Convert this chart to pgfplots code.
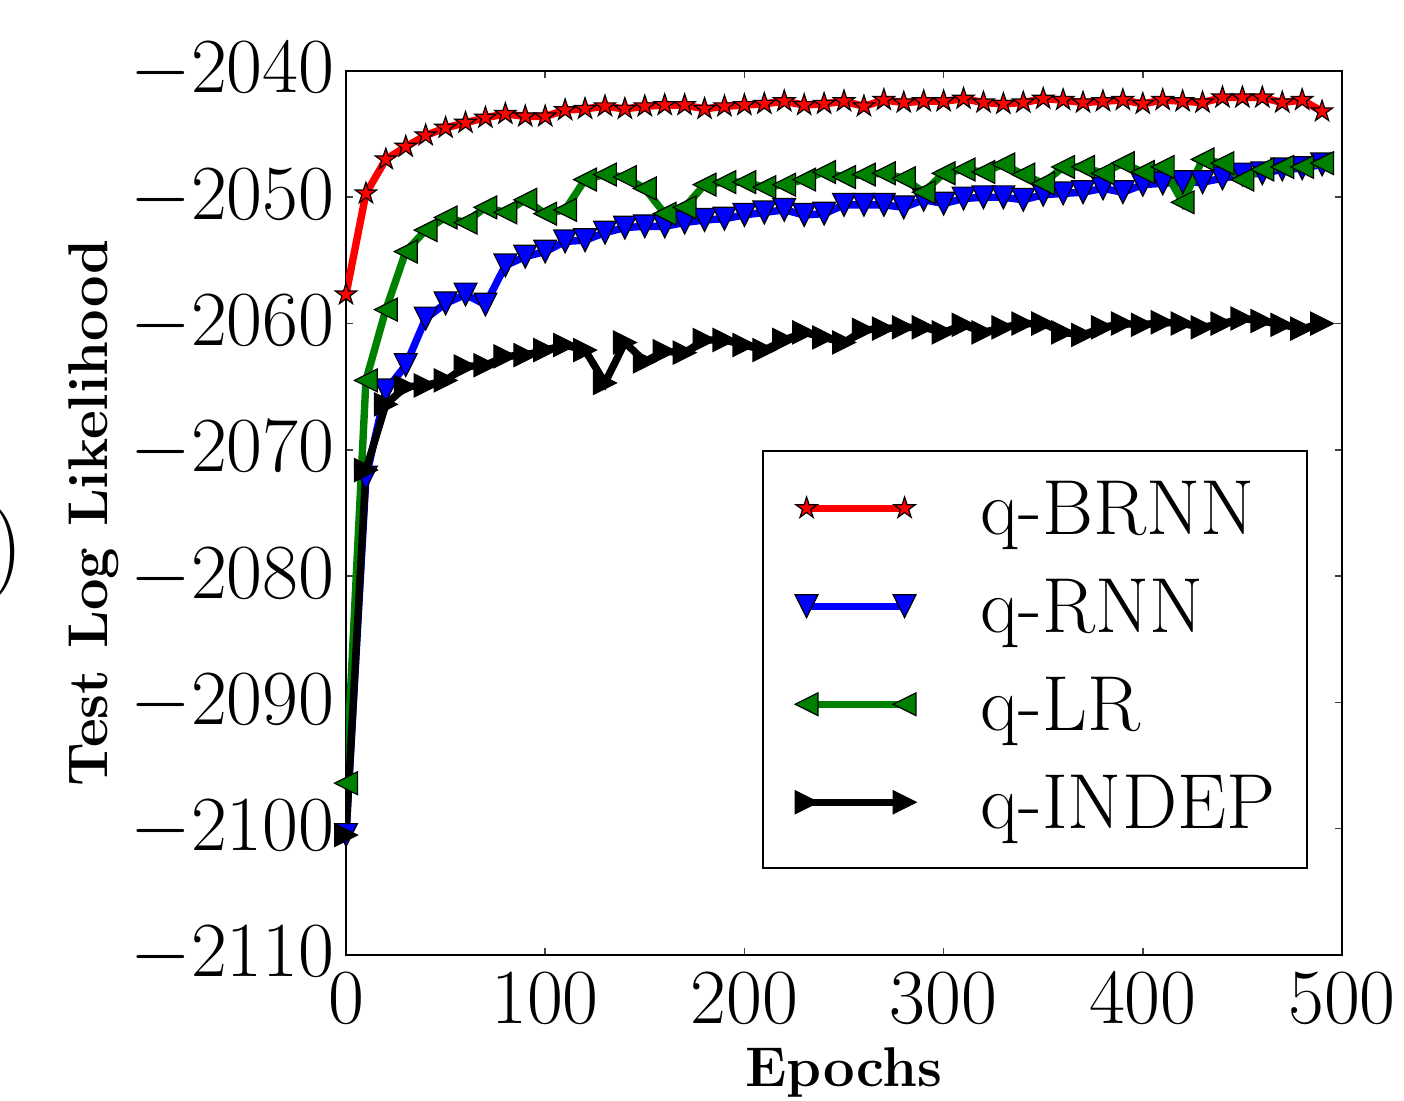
\documentclass[border=0pt]{standalone}
\usepackage{fix-cm}
\usepackage{pgfplots}
\pgfplotsset{compat=1.18}
\usetikzlibrary{calc}

% matplotlib-like filled markers
\pgfdeclareplotmark{mstar}{%
  \pgfpathmoveto{\pgfpointpolar{90}{\pgfplotmarksize}}%
  \pgfpathlineto{\pgfpointpolar{126}{0.382\pgfplotmarksize}}%
  \pgfpathlineto{\pgfpointpolar{162}{\pgfplotmarksize}}%
  \pgfpathlineto{\pgfpointpolar{198}{0.382\pgfplotmarksize}}%
  \pgfpathlineto{\pgfpointpolar{234}{\pgfplotmarksize}}%
  \pgfpathlineto{\pgfpointpolar{270}{0.382\pgfplotmarksize}}%
  \pgfpathlineto{\pgfpointpolar{306}{\pgfplotmarksize}}%
  \pgfpathlineto{\pgfpointpolar{342}{0.382\pgfplotmarksize}}%
  \pgfpathlineto{\pgfpointpolar{18}{\pgfplotmarksize}}%
  \pgfpathlineto{\pgfpointpolar{54}{0.382\pgfplotmarksize}}%
  \pgfpathclose\pgfusepathqfillstroke}
\pgfdeclareplotmark{mdown}{%
  \pgfpathmoveto{\pgfpoint{0pt}{-\pgfplotmarksize}}%
  \pgfpathlineto{\pgfpoint{-\pgfplotmarksize}{\pgfplotmarksize}}%
  \pgfpathlineto{\pgfpoint{\pgfplotmarksize}{\pgfplotmarksize}}%
  \pgfpathclose\pgfusepathqfillstroke}
\pgfdeclareplotmark{mleft}{%
  \pgfpathmoveto{\pgfpoint{-\pgfplotmarksize}{0pt}}%
  \pgfpathlineto{\pgfpoint{\pgfplotmarksize}{\pgfplotmarksize}}%
  \pgfpathlineto{\pgfpoint{\pgfplotmarksize}{-\pgfplotmarksize}}%
  \pgfpathclose\pgfusepathqfillstroke}
\pgfdeclareplotmark{mright}{%
  \pgfpathmoveto{\pgfpoint{\pgfplotmarksize}{0pt}}%
  \pgfpathlineto{\pgfpoint{-\pgfplotmarksize}{\pgfplotmarksize}}%
  \pgfpathlineto{\pgfpoint{-\pgfplotmarksize}{-\pgfplotmarksize}}%
  \pgfpathclose\pgfusepathqfillstroke}

\definecolor{mgreen}{RGB}{0,128,0}

\pgfplotstableread{
x y
0 -2057.7
10 -2049.7
20 -2047.0
30 -2046.0
40 -2045.1
50 -2044.5
60 -2044.1
70 -2043.7
80 -2043.4
90 -2043.6
100 -2043.6
110 -2043.1
120 -2043.0
130 -2042.8
140 -2043.0
150 -2042.8
160 -2042.7
170 -2042.7
180 -2043.0
190 -2042.8
200 -2042.7
210 -2042.6
220 -2042.4
230 -2042.7
240 -2042.6
250 -2042.4
260 -2042.8
270 -2042.3
280 -2042.5
290 -2042.4
300 -2042.4
310 -2042.2
320 -2042.5
330 -2042.6
340 -2042.5
350 -2042.2
360 -2042.3
370 -2042.5
380 -2042.4
390 -2042.3
400 -2042.6
410 -2042.3
420 -2042.4
430 -2042.5
440 -2042.1
450 -2042.1
460 -2042.1
470 -2042.5
480 -2042.3
490 -2043.2
}\brnn

\pgfplotstableread{
x y
0 -2100.5
10 -2072.2
20 -2065.3
30 -2063.3
40 -2059.6
50 -2058.4
60 -2057.7
70 -2058.5
80 -2055.4
90 -2054.7
100 -2054.3
110 -2053.5
120 -2053.4
130 -2052.8
140 -2052.4
150 -2052.3
160 -2052.3
170 -2052.0
180 -2051.8
190 -2051.7
200 -2051.4
210 -2051.2
220 -2051.0
230 -2051.4
240 -2051.3
250 -2050.6
260 -2050.6
270 -2050.6
280 -2050.8
290 -2050.2
300 -2050.5
310 -2050.1
320 -2050.0
330 -2050.0
340 -2050.2
350 -2049.8
360 -2049.7
370 -2049.6
380 -2049.3
390 -2049.6
400 -2049.0
410 -2048.9
420 -2048.8
430 -2048.8
440 -2048.5
450 -2048.2
460 -2048.1
470 -2047.8
480 -2047.7
490 -2047.4
}\rnn

\pgfplotstableread{
x y
0 -2096.4
10 -2064.5
20 -2058.9
30 -2054.3
40 -2052.6
50 -2051.6
60 -2052.0
70 -2050.8
80 -2051.2
90 -2050.2
100 -2051.3
110 -2051.0
120 -2048.6
130 -2048.2
140 -2048.4
150 -2049.3
160 -2051.3
170 -2050.8
180 -2049.0
190 -2048.8
200 -2048.8
210 -2049.2
220 -2049.0
230 -2048.6
240 -2048.0
250 -2048.4
260 -2048.2
270 -2048.1
280 -2048.5
290 -2049.6
300 -2048.1
310 -2047.8
320 -2048.0
330 -2047.4
340 -2048.2
350 -2048.9
360 -2047.6
370 -2047.6
380 -2048.1
390 -2047.3
400 -2048.0
410 -2047.6
420 -2050.4
430 -2047.0
440 -2047.3
450 -2048.6
460 -2047.8
470 -2047.6
480 -2047.6
490 -2047.3
}\lr

\pgfplotstableread{
x y
0 -2100.5
10 -2071.6
20 -2066.4
30 -2065.0
40 -2064.9
50 -2064.5
60 -2063.4
70 -2063.3
80 -2062.6
90 -2062.5
100 -2062.1
110 -2061.7
120 -2062.1
130 -2064.7
140 -2061.5
150 -2063.0
160 -2062.2
170 -2062.3
180 -2061.3
190 -2061.3
200 -2061.7
210 -2062.1
220 -2061.3
230 -2060.7
240 -2061.1
250 -2061.5
260 -2060.5
270 -2060.4
280 -2060.3
290 -2060.3
300 -2060.7
310 -2060.1
320 -2060.7
330 -2060.3
340 -2060.0
350 -2060.0
360 -2060.7
370 -2060.9
380 -2060.3
390 -2060.0
400 -2060.1
410 -2059.9
420 -2060.0
430 -2060.3
440 -2060.0
450 -2059.6
460 -2059.8
470 -2060.1
480 -2060.4
490 -2060.0
}\indep

\begin{document}
\begin{tikzpicture}
\begin{axis}[
  name=ax, scale only axis, width=249pt, height=221pt,
  xmin=0, xmax=500, ymin=-2110, ymax=-2040,
  xtick={0,100,...,500}, ytick={-2110,-2100,...,-2040},
  scaled ticks=false, /pgf/number format/1000 sep={},
  tick align=inside, major tick length=1.75pt,
  tick style={black!75, line width=0.4pt},
  axis line style={line width=0.5pt},
  tick label style={font=\fontsize{19.5}{23}\selectfont, inner sep=0pt},
  xticklabel style={yshift=-4.25pt},
  yticklabel style={xshift=-2.75pt},
  xlabel={Epochs}, ylabel={Test Log Likelihood},
  every axis x label/.style={at={(axis description cs:0.5,-0.1493)}, anchor=base,
    font=\fontsize{14}{17}\selectfont\bfseries},
  every axis y label/.style={at={(axis description cs:-0.239,0.5)}, anchor=base, rotate=90,
    font=\fontsize{14}{17}\selectfont\bfseries},
  legend cell align=left,
  legend image code/.code={\draw[#1] plot coordinates {(0pt,6.5pt) (24.5pt,6.5pt)};},
  legend style={at={(0.966,0.097)}, anchor=south east, draw=black, line width=0.5pt,
    fill=white, inner xsep=8pt, inner ysep=7pt, row sep=7.75pt,
    font=\fontsize{19.5}{23}\selectfont,
    cells={anchor=base west},
    nodes={inner sep=0pt, text height=13.75pt, text depth=3pt},
    /tikz/every odd column/.append style={column sep=16.25pt}},
  every axis plot/.append style={line width=1.85pt},
]
\addplot[red, mark=mstar, mark size=2.8pt,
  mark options={fill=red, draw=black, line width=0.3pt}] table {\brnn};
\addlegendentry{q-BRNN}
\addplot[blue, mark=mdown, mark size=2.85pt,
  mark options={fill=blue, draw=black, line width=0.3pt}] table {\rnn};
\addlegendentry{q-RNN}
\addplot[mgreen, mark=mleft, mark size=2.85pt,
  mark options={fill=mgreen, draw=black, line width=0.3pt}] table {\lr};
\addlegendentry{q-LR}
\addplot[black, mark=mright, mark size=2.85pt,
  mark options={fill=black, draw=black, line width=0.3pt}] table {\indep};
\addlegendentry{q-INDEP}
\end{axis}
\node[anchor=east, inner sep=0pt, font=\fontsize{24}{28}\selectfont]
  at ($(ax.south west)+(-80.5pt,100.5pt)$) {)};
\pgfresetboundingbox
\path ($(ax.south west)+(-86.5pt,-36.5pt)$) rectangle ($(ax.north east)+(15.5pt,17.75pt)$);
\end{tikzpicture}
\end{document}
